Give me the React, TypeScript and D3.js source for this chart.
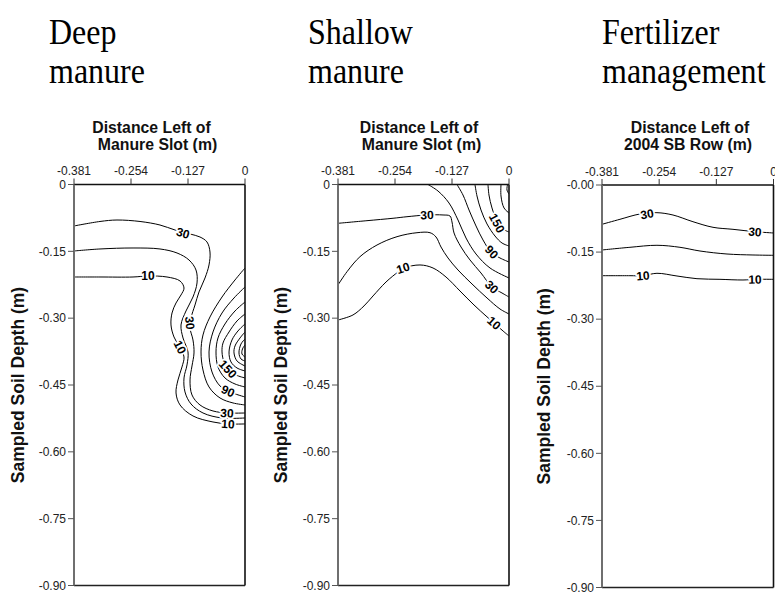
import React from "react";
import * as d3 from "d3";

type Pt = [number, number];

// ---------- axis data ----------
const xTickValues = [-0.381, -0.254, -0.127, 0];
const xTickLabels = ["-0.381", "-0.254", "-0.127", "0"];
const yTickValues = [0, -0.15, -0.3, -0.45, -0.6, -0.75, -0.9];
const yTickLabelsManure = ["0", "-0.15", "-0.30", "-0.45", "-0.60", "-0.75", "-0.90"];
const yTickLabelsFert = ["-0.00", "-0.15", "-0.30", "-0.45", "-0.60", "-0.75", "-0.90"];

const panelTitles = [["Deep", "manure"], ["Shallow", "manure"], ["Fertilizer", "management"]];
const axisTitles = [
  ["Distance Left of", "Manure Slot (m)"],
  ["Distance Left of", "Manure Slot (m)"],
  ["Distance Left of", "2004 SB Row (m)"],
];
const yAxisTitle = "Sampled Soil Depth (m)";

// ---------- contour lines (x = distance m, y = depth m) ----------
// Deep manure
const deep10: Pt[] = [[-0.381,-0.2076],[-0.3231,-0.2076],[-0.2495,-0.2076],[-0.2161,-0.2053],[-0.1738,-0.2076],[-0.1448,-0.2165],[-0.1359,-0.2323],[-0.1426,-0.2480],[-0.1537,-0.2659],[-0.1626,-0.2884],[-0.1649,-0.3153],[-0.1582,-0.3422],[-0.1448,-0.3669],[-0.1359,-0.3871],[-0.1404,-0.4095],[-0.1493,-0.4387],[-0.1537,-0.4679],[-0.1448,-0.4948],[-0.1159,-0.5195],[-0.0713,-0.5330],[-0.0379,-0.5374],[0,-0.5374]];
const deep20: Pt[] = [[-0.381,-0.1492],[-0.3231,-0.1447],[-0.2495,-0.1425],[-0.1894,-0.1447],[-0.1515,-0.1537],[-0.1248,-0.1694],[-0.1092,-0.1919],[-0.1069,-0.2210],[-0.1159,-0.2525],[-0.1315,-0.2839],[-0.1426,-0.3153],[-0.1381,-0.3445],[-0.1270,-0.3759],[-0.1292,-0.4050],[-0.1359,-0.4342],[-0.1337,-0.4656],[-0.1203,-0.4926],[-0.0936,-0.5128],[-0.0512,-0.5240],[0,-0.5240]];
const deep30: Pt[] = [[-0.381,-0.0931],[-0.3231,-0.0830],[-0.2852,-0.0797],[-0.2339,-0.0830],[-0.1894,-0.0909],[-0.1560,-0.1021],[-0.1225,-0.1111],[-0.1003,-0.1178],[-0.0847,-0.1290],[-0.0780,-0.1515],[-0.0802,-0.1806],[-0.0891,-0.2098],[-0.1025,-0.2412],[-0.1114,-0.2704],[-0.1203,-0.2996],[-0.1225,-0.3220],[-0.1159,-0.3489],[-0.1136,-0.3781],[-0.1181,-0.4073],[-0.1225,-0.4387],[-0.1181,-0.4724],[-0.1003,-0.4948],[-0.0713,-0.5083],[-0.0379,-0.5128],[0,-0.5128]];
const deep60: Pt[] = [[0,-0.1874],[-0.0223,-0.2143],[-0.0512,-0.2525],[-0.0780,-0.2973],[-0.0936,-0.3377],[-0.0980,-0.3759],[-0.0936,-0.4163],[-0.0802,-0.4544],[-0.0557,-0.4791],[-0.0267,-0.4903],[0,-0.4948]];
const deep90: Pt[] = [[0,-0.2300],[-0.0245,-0.2547],[-0.0512,-0.2884],[-0.0713,-0.3310],[-0.0802,-0.3759],[-0.0735,-0.4208],[-0.0557,-0.4522],[-0.0334,-0.4656],[0,-0.4769]];
const deep120: Pt[] = [[0,-0.2637],[-0.0223,-0.2839],[-0.0446,-0.3130],[-0.0602,-0.3445],[-0.0646,-0.3759],[-0.0602,-0.4095],[-0.0446,-0.4342],[-0.0223,-0.4477],[0,-0.4544]];
const deep150: Pt[] = [[0,-0.2906],[-0.0178,-0.3063],[-0.0356,-0.3310],[-0.0490,-0.3557],[-0.0512,-0.3759],[-0.0468,-0.3983],[-0.0379,-0.4140],[-0.0201,-0.4275],[0,-0.4342]];
const deep180: Pt[] = [[0,-0.3130],[-0.0156,-0.3287],[-0.0290,-0.3489],[-0.0356,-0.3759],[-0.0312,-0.3983],[-0.0178,-0.4118],[0,-0.4185]];
const deep210: Pt[] = [[0,-0.3310],[-0.0111,-0.3445],[-0.0223,-0.3624],[-0.0245,-0.3781],[-0.0178,-0.3961],[0,-0.4073]];
const deep240: Pt[] = [[0,-0.3467],[-0.0089,-0.3579],[-0.0134,-0.3781],[-0.0089,-0.3916],[0,-0.3961]];
const deep270: Pt[] = [[0,-0.3602],[-0.0056,-0.3691],[-0.0067,-0.3804],[0,-0.3871]];

// Shallow manure
const shallow10: Pt[] = [[-0.381,-0.3041],[-0.3476,-0.2928],[-0.3231,-0.2726],[-0.3030,-0.2502],[-0.2740,-0.2188],[-0.2473,-0.1964],[-0.2339,-0.1874],[-0.1983,-0.1806],[-0.1693,-0.1874],[-0.1404,-0.2076],[-0.1092,-0.2390],[-0.0780,-0.2704],[-0.0512,-0.2951],[-0.0334,-0.3108],[-0.0134,-0.3287],[0,-0.3400]];
const shallow20: Pt[] = [[-0.381,-0.2255],[-0.3609,-0.1957],[-0.3320,-0.1620],[-0.2941,-0.1358],[-0.2495,-0.1171],[-0.2050,-0.1082],[-0.1760,-0.1082],[-0.1626,-0.1178],[-0.1515,-0.1403],[-0.1359,-0.1649],[-0.1136,-0.1919],[-0.0824,-0.2233],[-0.0490,-0.2547],[-0.0201,-0.2794],[0,-0.2906]];
const shallow30: Pt[] = [[-0.381,-0.0871],[-0.3164,-0.0812],[-0.2584,-0.0758],[-0.2273,-0.0723],[-0.1827,-0.0684],[-0.1470,-0.0684],[-0.1315,-0.0707],[-0.1270,-0.0841],[-0.1225,-0.1088],[-0.1069,-0.1403],[-0.0869,-0.1694],[-0.0624,-0.1986],[-0.0379,-0.2300],[-0.0156,-0.2435],[0,-0.2525]];
const shallow60: Pt[] = [[-0.1805,0],[-0.1582,-0.0146],[-0.1337,-0.0415],[-0.1136,-0.0797],[-0.0958,-0.1201],[-0.0735,-0.1560],[-0.0423,-0.1874],[0,-0.2098]];
const shallow90: Pt[] = [[-0.1159,0],[-0.1025,-0.0236],[-0.0891,-0.0572],[-0.0735,-0.0931],[-0.0579,-0.1245],[-0.0401,-0.1515],[-0.0201,-0.1649],[0,-0.1739]];
const shallow120: Pt[] = [[-0.0758,0],[-0.0713,-0.0258],[-0.0624,-0.0572],[-0.0490,-0.0886],[-0.0312,-0.1156],[-0.0156,-0.1313],[0,-0.1380]];
const shallow150: Pt[] = [[-0.0468,0],[-0.0446,-0.0236],[-0.0379,-0.0527],[-0.0267,-0.0819],[-0.0134,-0.0999],[0,-0.1066]];
const shallow180: Pt[] = [[-0.0178,0],[-0.0178,-0.0258],[-0.0111,-0.0527],[0,-0.0640]];
const shallow210: Pt[] = [[-0.0033,0],[-0.0045,-0.0124],[0,-0.0213]];

// Fertilizer management
const fert10: Pt[] = [[-0.381,-0.2028],[-0.3189,-0.2028],[-0.2900,-0.2028],[-0.2589,-0.1974],[-0.2144,-0.2035],[-0.1700,-0.2095],[-0.1189,-0.2109],[-0.0678,-0.2124],[-0.0411,-0.2109],[0,-0.2109]];
const fert20: Pt[] = [[-0.381,-0.1453],[-0.3189,-0.1393],[-0.2589,-0.1348],[-0.2078,-0.1393],[-0.1633,-0.1476],[-0.1033,-0.1543],[-0.0456,-0.1565],[0,-0.1572]];
const fert30: Pt[] = [[-0.381,-0.0879],[-0.3411,-0.0767],[-0.2966,-0.0648],[-0.2589,-0.0619],[-0.2233,-0.0671],[-0.1789,-0.0821],[-0.1344,-0.0946],[-0.0900,-0.0991],[-0.0411,-0.1044],[0,-0.1073]];

const deepLines = [
  { level: 10, pts: deep10 }, { level: 20, pts: deep20 }, { level: 30, pts: deep30 },
  { level: 60, pts: deep60 }, { level: 90, pts: deep90 }, { level: 120, pts: deep120 },
  { level: 150, pts: deep150 }, { level: 180, pts: deep180 }, { level: 210, pts: deep210 },
  { level: 240, pts: deep240 }, { level: 270, pts: deep270 },
];
const shallowLines = [
  { level: 10, pts: shallow10 }, { level: 20, pts: shallow20 }, { level: 30, pts: shallow30 },
  { level: 60, pts: shallow60 }, { level: 90, pts: shallow90 }, { level: 120, pts: shallow120 },
  { level: 150, pts: shallow150 }, { level: 180, pts: shallow180 }, { level: 210, pts: shallow210 },
];
const fertLines = [
  { level: 10, pts: fert10 }, { level: 20, pts: fert20 }, { level: 30, pts: fert30 },
];

// contour labels: level and location on the line
const deepLabels = [
  { level: 30, at: [-0.1381, -0.1088] as Pt },
  { level: 10, at: [-0.2161, -0.2053] as Pt },
  { level: 30, at: [-0.1225, -0.3108] as Pt },
  { level: 10, at: [-0.1448, -0.3647] as Pt },
  { level: 150, at: [-0.0379, -0.4140] as Pt },
  { level: 90, at: [-0.0379, -0.4634] as Pt },
  { level: 30, at: [-0.0401, -0.5128] as Pt },
  { level: 10, at: [-0.0379, -0.5374] as Pt },
];
const shallowLabels = [
  { level: 30, at: [-0.1827, -0.0684] as Pt },
  { level: 10, at: [-0.2362, -0.1874] as Pt },
  { level: 150, at: [-0.0267, -0.0864] as Pt },
  { level: 90, at: [-0.0385, -0.1515] as Pt },
  { level: 30, at: [-0.0385, -0.2300] as Pt },
  { level: 10, at: [-0.0334, -0.3108] as Pt },
];
const fertLabels = [
  { level: 30, at: [-0.2811, -0.0648] as Pt },
  { level: 30, at: [-0.0411, -0.1044] as Pt },
  { level: 10, at: [-0.2900, -0.2028] as Pt },
  { level: 10, at: [-0.0411, -0.2109] as Pt },
];

// ---------- layout ----------
const panels = [
  { x0: 74, x1: 245, yT: 184.5, yB: 585.5, titleX: 49, atX: [151.5, 157.5], yTitleX: 24, yLabels: yTickLabelsManure, lines: deepLines, labels: deepLabels },
  { x0: 338, x1: 509, yT: 184.5, yB: 585.5, titleX: 308, atX: [419, 421.5], yTitleX: 287, yLabels: yTickLabelsManure, lines: shallowLines, labels: shallowLabels },
  { x0: 602, x1: 773.5, yT: 185, yB: 587.5, titleX: 602, atX: [690, 688], yTitleX: 550, yLabels: yTickLabelsFert, lines: fertLines, labels: fertLabels },
];

const SANS = "'Liberation Sans', Arial, Helvetica, sans-serif";
const SERIF = "'Liberation Serif', 'Times New Roman', serif";

function Panel({ p, i }: { p: (typeof panels)[number]; i: number }) {
  const xs = d3.scaleLinear().domain([-0.381, 0]).range([p.x0, p.x1]);
  const ys = d3.scaleLinear().domain([0, -0.9]).range([p.yT, p.yB]);
  const line = d3
    .line<Pt>()
    .x((d) => xs(d[0]))
    .y((d) => ys(d[1]))
    .curve(d3.curveCatmullRom.alpha(0.5));
  const clipId = `clip${i}`;

  const labelAngle = (level: number, at: Pt) => {
    const pxAt = [xs(at[0]), ys(at[1])];
    let best = { d: Infinity, pts: [] as Pt[], k: 0 };
    p.lines.filter((l) => l.level === level).forEach((l) => {
      l.pts.forEach((q, k) => {
        const dd = Math.hypot(xs(q[0]) - pxAt[0], ys(q[1]) - pxAt[1]);
        if (dd < best.d) best = { d: dd, pts: l.pts, k };
      });
    });
    const a = best.pts[Math.max(0, best.k - 1)];
    const b = best.pts[Math.min(best.pts.length - 1, best.k + 1)];
    let ang = (Math.atan2(ys(b[1]) - ys(a[1]), xs(b[0]) - xs(a[0])) * 180) / Math.PI;
    if (ang > 90) ang -= 180;
    if (ang < -90) ang += 180;
    return ang;
  };

  const yMid = (p.yT + p.yB) / 2;
  return (
    <g>
      {/* panel title */}
      {panelTitles[i].map((t, k) => (
        <g key={k} transform={`translate(${p.titleX},${k === 0 ? 44 : 83}) scale(0.97,1.1)`}>
          <text fontFamily={SERIF} fontSize={33} fill="#000">{t}</text>
        </g>
      ))}
      {/* axis title */}
      {axisTitles[i].map((t, k) => (
        <g key={k} transform={`translate(${p.atX[k]},${k === 0 ? 132.5 : 149.5}) scale(0.93,1)`}>
          <text textAnchor="middle" fontFamily={SANS} fontWeight="bold" fontSize={17} fill="#111">{t}</text>
        </g>
      ))}
      {/* y axis title */}
      <text
        transform={`translate(${p.yTitleX},${yMid}) rotate(-90)`}
        textAnchor="middle"
        fontFamily={SANS}
        fontWeight="bold"
        fontSize={17.5}
        fill="#111"
      >
        {yAxisTitle}
      </text>

      <clipPath id={clipId}>
        <rect x={p.x0} y={p.yT} width={p.x1 - p.x0} height={p.yB - p.yT} />
      </clipPath>

      {/* contours */}
      <g clipPath={`url(#${clipId})`}>
        {p.lines.map((l, k) => (
          <path key={k} d={line(l.pts) || ""} fill="none" stroke="#000" strokeWidth={1} />
        ))}
      </g>
      {/* contour labels */}
      {p.labels.map((lb, k) => {
        const ang = labelAngle(lb.level, lb.at);
        return (
          <text
            key={k}
            transform={`translate(${xs(lb.at[0])},${ys(lb.at[1])}) rotate(${ang})`}
            textAnchor="middle"
            dy="0.36em"
            fontFamily={SANS}
            fontWeight="bold"
            fontSize={12}
            fill="#000"
            stroke="#fff"
            strokeWidth={3.5}
            strokeLinejoin="round"
            paintOrder="stroke"
          >
            {String(lb.level)}
          </text>
        );
      })}

      {/* frame */}
      <line x1={p.x0} x2={p.x1} y1={p.yT} y2={p.yT} stroke="#111" strokeWidth={1.3} />
      <line x1={p.x1} x2={p.x1} y1={p.yT} y2={p.yB} stroke="#111" strokeWidth={1.6} />
      <line x1={p.x0} x2={p.x1} y1={p.yB} y2={p.yB} stroke="#222" strokeWidth={1.4} />
      <line x1={p.x0} x2={p.x0} y1={p.yT} y2={p.yB} stroke="#6f6f6f" strokeWidth={2} />

      {/* x ticks */}
      {xTickValues.map((v, k) => (
        <g key={k}>
          <line x1={xs(v)} x2={xs(v)} y1={p.yT - 6} y2={p.yT} stroke="#333" strokeWidth={1} />
          <text x={xs(v)} y={p.yT - 9.5} textAnchor="middle" fontFamily={SANS} fontSize={12} fill="#222">
            {xTickLabels[k]}
          </text>
        </g>
      ))}
      {/* y ticks */}
      {yTickValues.map((v, k) => (
        <g key={k}>
          <line x1={p.x0 - 6} x2={p.x0} y1={ys(v)} y2={ys(v)} stroke="#555" strokeWidth={1} />
          <text x={p.x0 - 8} y={ys(v)} dy="0.35em" textAnchor="end" fontFamily={SANS} fontSize={12} fill="#222">
            {p.yLabels[k]}
          </text>
        </g>
      ))}
    </g>
  );
}

export default function App() {
  return (
    <svg
      width={775}
      height={594}
      viewBox="0 0 775 594"
      style={{ position: "absolute", left: 0, top: 0, background: "#fff" }}
    >
      <rect x={0} y={0} width={775} height={594} fill="#fff" />
      {panels.map((p, i) => (
        <Panel key={i} p={p} i={i} />
      ))}
    </svg>
  );
}
